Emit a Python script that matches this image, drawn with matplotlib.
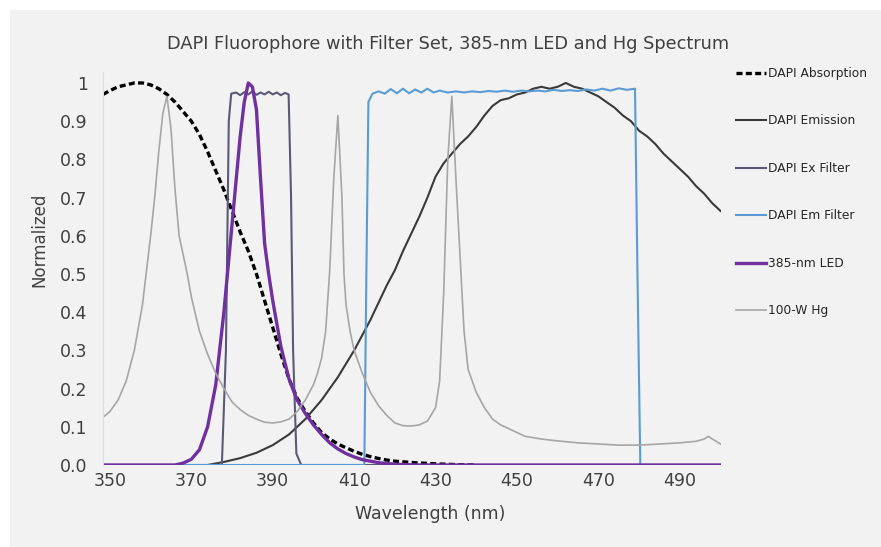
import matplotlib
matplotlib.use("Agg")
import matplotlib.pyplot as plt
from matplotlib.patches import Rectangle

# ---- data ----
abs_nm = [348.3, 350, 352, 354, 356, 358, 360, 362, 364, 366, 368, 370, 372, 374, 376, 378,
          380, 382, 384, 386, 388, 390, 392, 394, 396, 398, 400, 402, 404, 406, 408, 410,
          412, 414, 416, 418, 420, 425, 430, 435, 440]
abs_val = [0.97, 0.98, 0.99, 0.995, 1.0, 1.0, 0.995, 0.985, 0.97, 0.95, 0.925, 0.9, 0.865, 0.82,
           0.77, 0.72, 0.665, 0.61, 0.56, 0.50, 0.43, 0.36, 0.29, 0.225, 0.175, 0.14, 0.11,
           0.085, 0.068, 0.055, 0.045, 0.036, 0.028, 0.022, 0.017, 0.013, 0.01, 0.006,
           0.003, 0.001, 0.0]

em_nm = [374, 378, 382, 386, 390, 394, 398, 402, 406, 410, 414, 418, 420, 422, 426, 428, 430,
         432, 434, 436, 438, 440, 442, 444, 446, 448, 450, 452, 454, 456, 458, 460, 462, 464,
         466, 468, 470, 472, 474, 476, 478, 480, 482, 484, 486, 488, 490, 492, 494, 496, 498, 500]
em_val = [0.0, 0.008, 0.018, 0.032, 0.052, 0.08, 0.12, 0.17, 0.23, 0.30, 0.38, 0.47, 0.51,
          0.56, 0.65, 0.70, 0.755, 0.79, 0.815, 0.84, 0.86, 0.885, 0.915, 0.94, 0.955, 0.96,
          0.97, 0.975, 0.985, 0.99, 0.985, 0.99, 1.0, 0.99, 0.985, 0.975, 0.965, 0.95, 0.935,
          0.915, 0.9, 0.875, 0.86, 0.84, 0.815, 0.795, 0.775, 0.755, 0.73, 0.71, 0.685, 0.665]

ex_nm = [348.3, 377.5, 378.5, 379.2, 379.8, 381, 382, 383, 384, 385, 386, 387, 388, 389, 390,
         391, 392, 393, 393.9, 394.5, 395.0, 395.8, 397, 500]
ex_val = [0.0, 0.0, 0.3, 0.9, 0.972, 0.975, 0.968, 0.976, 0.97, 0.978, 0.969, 0.975, 0.97,
          0.977, 0.97, 0.975, 0.968, 0.974, 0.97, 0.7, 0.3, 0.03, 0.0, 0.0]

emf_nm = [348.3, 412.5, 413.0, 413.5, 414.5, 416, 417.5, 419, 420.5, 422, 423.5, 425, 426.5,
          428, 429.5, 431, 433, 435, 437, 439, 441, 443, 445, 447, 449, 451, 453, 455, 457,
          459, 461, 463, 465, 467, 469, 471, 473, 475, 477, 479, 479.6, 480.3, 500]
emf_val = [0.0, 0.0, 0.5, 0.95, 0.972, 0.978, 0.972, 0.984, 0.973, 0.985, 0.973, 0.983,
           0.975, 0.985, 0.975, 0.98, 0.975, 0.978, 0.975, 0.978, 0.976, 0.979, 0.977, 0.98,
           0.977, 0.98, 0.978, 0.98, 0.978, 0.982, 0.979, 0.981, 0.979, 0.983, 0.98, 0.985,
           0.98, 0.986, 0.982, 0.985, 0.5, 0.0, 0.0]

led_nm = [348.3, 366, 368, 370, 372, 374, 376, 378, 380, 382, 383, 384, 385, 386, 387, 388,
          389, 390, 392, 394, 396, 398, 400, 402, 404, 406, 408, 410, 412, 416, 420, 425, 500]
led_val = [0.0, 0.0, 0.005, 0.015, 0.04, 0.1, 0.21, 0.4, 0.63, 0.86, 0.95, 1.0, 0.99, 0.93,
           0.75, 0.58, 0.5, 0.43, 0.31, 0.225, 0.17, 0.135, 0.105, 0.08, 0.058, 0.042, 0.03,
           0.021, 0.014, 0.006, 0.002, 0.0, 0.0]

hg_nm = [348.3, 350, 352, 354, 356, 358, 359, 360, 361, 362, 363, 364, 365, 366, 367, 368,
         369, 370, 372, 374, 376, 378, 380, 382, 384, 386, 388, 390, 392, 394, 396, 398, 400,
         401, 402, 403, 404, 405, 406, 407, 407.5, 408, 409, 410, 412, 414, 416, 418, 420, 422,
         424, 426, 428, 430, 431, 432, 433, 434, 435, 436, 437, 438, 440, 442, 444, 446, 448,
         450, 452, 456, 460, 465, 470, 475, 480, 485, 490, 494, 496, 497, 498, 500]
hg_val = [0.125, 0.14, 0.17, 0.22, 0.30, 0.42, 0.51, 0.60, 0.70, 0.82, 0.92, 0.965, 0.88, 0.72,
          0.60, 0.55, 0.50, 0.44, 0.35, 0.29, 0.24, 0.20, 0.165, 0.145, 0.13, 0.12, 0.112, 0.11,
          0.113, 0.12, 0.14, 0.17, 0.21, 0.24, 0.28, 0.35, 0.51, 0.75, 0.915, 0.7, 0.5, 0.42,
          0.35, 0.30, 0.24, 0.19, 0.155, 0.13, 0.11, 0.103, 0.102, 0.105, 0.115, 0.15, 0.22,
          0.45, 0.8, 0.965, 0.75, 0.55, 0.35, 0.25, 0.19, 0.15, 0.12, 0.105, 0.095, 0.085,
          0.075, 0.068, 0.063, 0.058, 0.055, 0.052, 0.052, 0.055, 0.058, 0.062, 0.068, 0.075,
          0.068, 0.055]

x_ticks = [350, 370, 390, 410, 430, 450, 470, 490]
y_ticks = [0.0, 0.1, 0.2, 0.3, 0.4, 0.5, 0.6, 0.7, 0.8, 0.9, 1.0]
y_tick_labels = ["0.0", "0.1", "0.2", "0.3", "0.4", "0.5", "0.6", "0.7", "0.8", "0.9", "1"]

text_color = "#404040"

fig = plt.figure(figsize=(8.81, 5.47), dpi=100, facecolor="#f2f2f2")
# white margin strips at the top and left edge
fig.patches.append(Rectangle((0, 1 - 10 / 547), 1, 10 / 547, transform=fig.transFigure,
                             facecolor="white", edgecolor="none"))
fig.patches.append(Rectangle((0, 0), 10 / 881, 1, transform=fig.transFigure,
                             facecolor="white", edgecolor="none"))

ax = fig.add_axes([103 / 881, 82 / 547, 617.5 / 881, 393.5 / 547])
ax.set_facecolor("none")

ax.plot(abs_nm, abs_val, color="black", lw=2.4, ls=(0, (1.8, 1.0)), label="DAPI Absorption")
ax.plot(em_nm, em_val, color="#3a3a3a", lw=1.5, label="DAPI Emission")
ax.plot(ex_nm, ex_val, color="#5a5a78", lw=1.5, label="DAPI Ex Filter")
ax.plot(emf_nm, emf_val, color="#5b9bd5", lw=1.5, label="DAPI Em Filter")
ax.plot(led_nm, led_val, color="#7030a0", lw=2.4, label="385-nm LED")
ax.plot(hg_nm, hg_val, color="#a6a6a6", lw=1.2, label="100-W Hg")

ax.set_xlim(348.3, 500)
ax.set_ylim(0, 1.03)
ax.set_xticks(x_ticks)
ax.set_yticks(y_ticks)
ax.set_yticklabels(y_tick_labels)
ax.tick_params(length=0, labelsize=12.5, colors=text_color)
ax.tick_params(axis="x", pad=5)
ax.tick_params(axis="y", pad=11)
for s in ["top", "right", "bottom"]:
    ax.spines[s].set_visible(False)
ax.spines["left"].set_color("#dedede")

ax.set_xlabel("Wavelength (nm)", fontsize=12.5, color=text_color)
ax.xaxis.set_label_coords(327 / 617.5, -40 / 393.5)
ax.set_ylabel("Normalized", fontsize=12, color=text_color)
ax.yaxis.set_label_coords(-55 / 617.5, (465 - 240) / 393.5)

fig.text(448 / 881, 1 - 44 / 547, "DAPI Fluorophore with Filter Set, 385-nm LED and Hg Spectrum",
         ha="center", va="center", fontsize=12.8, color=text_color)

fig.legend(loc="upper left", bbox_to_anchor=(736 / 881, 1 - 67 / 547),
           bbox_transform=fig.transFigure, frameon=False, borderpad=0, borderaxespad=0,
           handlelength=2.45, handletextpad=0.15, labelspacing=2.82,
           prop={"size": 8.8}, labelcolor="#262626")

fig.savefig("out.png", dpi=100, facecolor=fig.get_facecolor())
